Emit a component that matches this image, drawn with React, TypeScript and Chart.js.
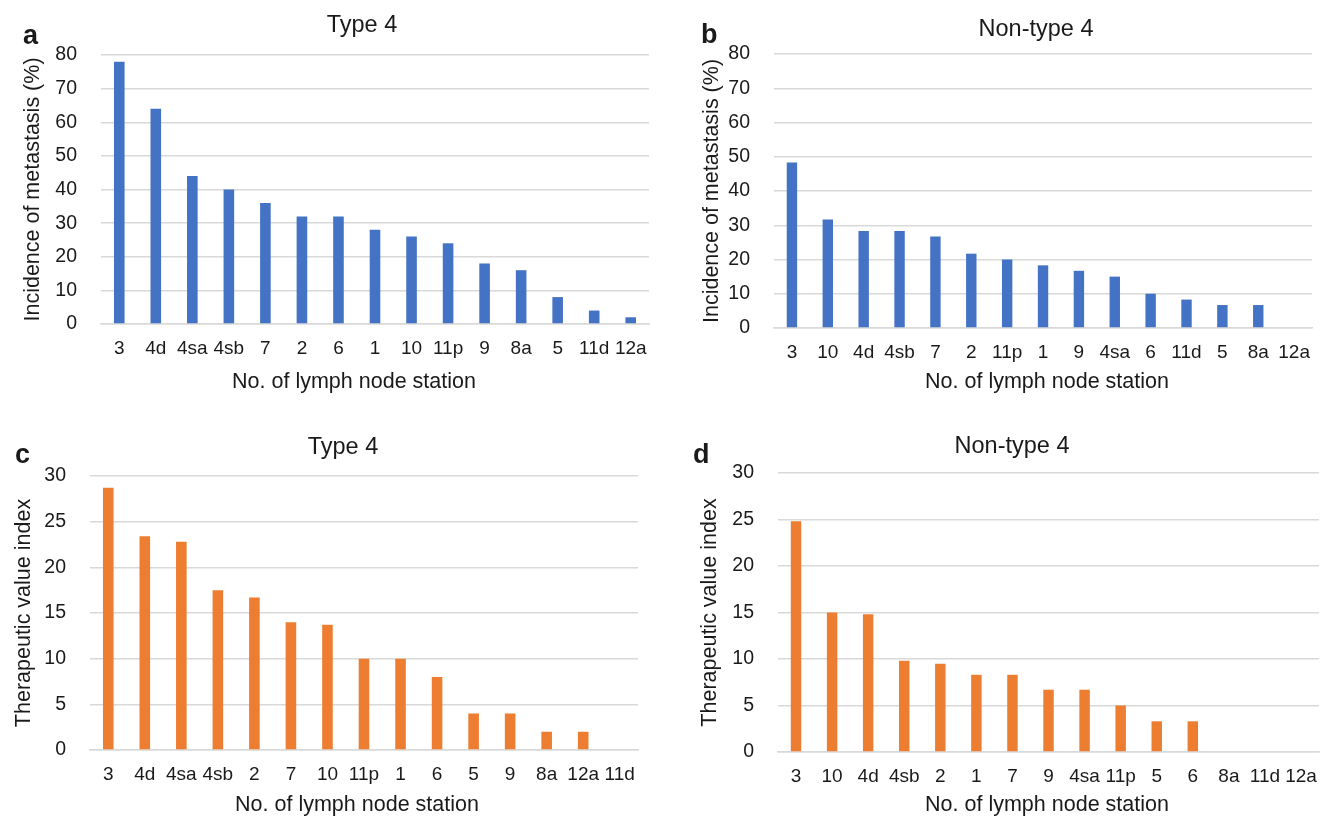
import React, { useEffect, useRef } from "react";
import { Chart, registerables } from "chart.js";

Chart.register(...registerables);

// ---------- data ----------
const catsA = ["3", "4d", "4sa", "4sb", "7", "2", "6", "1", "10", "11p", "9", "8a", "5", "11d", "12a"];
const valsA = [78, 64, 44, 40, 36, 32, 32, 28, 26, 24, 18, 16, 8, 4, 2];

const catsB = ["3", "10", "4d", "4sb", "7", "2", "11p", "1", "9", "4sa", "6", "11d", "5", "8a", "12a"];
const valsB = [48.3, 31.7, 28.3, 28.3, 26.7, 21.7, 20, 18.3, 16.7, 15, 10, 8.3, 6.7, 6.7, 0];

const catsC = ["3", "4d", "4sa", "4sb", "2", "7", "10", "11p", "1", "6", "5", "9", "8a", "12a", "11d"];
const valsC = [28.7, 23.4, 22.8, 17.5, 16.7, 14, 13.7, 10, 10, 8, 4, 4, 2, 2, 0];

const catsD = ["3", "10", "4d", "4sb", "2", "1", "7", "9", "4sa", "11p", "5", "6", "8a", "11d", "12a"];
const valsD = [24.8, 15, 14.8, 9.8, 9.5, 8.3, 8.3, 6.7, 6.7, 5, 3.3, 3.3, 0, 0, 0];

const titleType4 = "Type 4";
const titleNonType4 = "Non-type 4";
const yTitleIncidence = "Incidence of metastasis (%)";
const yTitleTherapeutic = "Therapeutic value index";
const xTitle = "No. of lymph node station";

const BLUE = "#4472C4";
const ORANGE = "#ED7D31";
const GRID = "#d9d9d9";
const TEXT = "#1a1a1a";
const FONT = "'Liberation Sans', Arial, sans-serif";

type Panel = {
  letter: string;
  title: string;
  yTitle: string;
  cats: string[];
  vals: number[];
  color: string;
  yMax: number;
  yStep: number;
  // layout (absolute page coords)
  left: number; top: number; w: number; h: number;
  cl: number; cr: number; ct: number; cb: number;
  letterX: number; letterY: number;
  titleX: number; titleY: number;
  xTitleX: number; xTitleY: number;
  yTitleX: number;
};

const panels: Panel[] = [
  {
    letter: "a", title: titleType4, yTitle: yTitleIncidence, cats: catsA, vals: valsA, color: BLUE, yMax: 80, yStep: 10,
    left: 0, top: 0, w: 660, h: 410, cl: 101, cr: 649, ct: 55, cb: 324,
    letterX: 23, letterY: 44, titleX: 362, titleY: 26, xTitleX: 354, xTitleY: 382, yTitleX: 33,
  },
  {
    letter: "b", title: titleNonType4, yTitle: yTitleIncidence, cats: catsB, vals: valsB, color: BLUE, yMax: 80, yStep: 10,
    left: 660, top: 0, w: 663, h: 410, cl: 774, cr: 1322, ct: 54, cb: 328,
    letterX: 701, letterY: 43, titleX: 1036, titleY: 30, xTitleX: 1047, xTitleY: 382, yTitleX: 712,
  },
  {
    letter: "c", title: titleType4, yTitle: yTitleTherapeutic, cats: catsC, vals: valsC, color: ORANGE, yMax: 30, yStep: 5,
    left: 0, top: 420, w: 660, h: 396, cl: 90, cr: 638, ct: 476, cb: 750,
    letterX: 15, letterY: 463, titleX: 343, titleY: 448, xTitleX: 357, xTitleY: 805, yTitleX: 24,
  },
  {
    letter: "d", title: titleNonType4, yTitle: yTitleTherapeutic, cats: catsD, vals: valsD, color: ORANGE, yMax: 30, yStep: 5,
    left: 660, top: 420, w: 670, h: 396, cl: 778, cr: 1326, ct: 473, cb: 752,
    letterX: 693, letterY: 463, titleX: 1012, titleY: 447, xTitleX: 1047, xTitleY: 805, yTitleX: 710,
  },
];

function PanelChart({ p }: { p: Panel }) {
  const ref = useRef<HTMLCanvasElement | null>(null);
  useEffect(() => {
    if (!ref.current) return;
    const yTitleSize = 21.5;
    const yTitleLH = yTitleSize * 1.2;
    const textPlugin = {
      id: "panelText",
      afterDraw(chart: any) {
        const ctx = chart.ctx;
        ctx.save();
        ctx.fillStyle = TEXT;
        ctx.textAlign = "left";
        ctx.textBaseline = "alphabetic";
        ctx.font = `bold 27px ${FONT}`;
        ctx.fillText(p.letter, p.letterX - p.left, p.letterY - p.top);
        ctx.textAlign = "center";
        ctx.textBaseline = "middle";
        ctx.font = `23.5px ${FONT}`;
        ctx.fillText(p.title, p.titleX - p.left, p.titleY - p.top);
        ctx.font = `21.5px ${FONT}`;
        ctx.fillText(xTitle, p.xTitleX - p.left, p.xTitleY - p.top);
        ctx.restore();
      },
    };
    const chart = new Chart(ref.current, {
      type: "bar",
      data: {
        labels: p.cats,
        datasets: [
          {
            data: p.vals,
            backgroundColor: p.color,
            borderWidth: 0,
            barPercentage: 0.29,
            categoryPercentage: 1,
          },
        ],
      },
      options: {
        responsive: false,
        animation: false,
        layout: {
          padding: {
            left: 0,
            top: p.ct - p.top,
            right: p.left + p.w - p.cr,
            bottom: 0,
          },
        },
        plugins: {
          legend: { display: false },
          tooltip: { enabled: false },
          title: { display: false },
        },
        scales: {
          x: {
            grid: { display: false, drawTicks: false },
            border: { display: true, color: GRID, width: 1.5 },
            ticks: {
              color: TEXT,
              font: { family: FONT, size: 19 },
              padding: 13,
              maxRotation: 0,
              autoSkip: false,
            },
            afterFit(scale: any) {
              scale.height = p.top + p.h - p.cb;
            },
          },
          y: {
            min: 0,
            max: p.yMax,
            grid: { color: GRID, lineWidth: 1.5, drawTicks: false },
            border: { display: false },
            ticks: {
              stepSize: p.yStep,
              color: TEXT,
              font: { family: FONT, size: 19.5 },
              padding: 24,
            },
            title: {
              display: true,
              text: p.yTitle,
              color: TEXT,
              font: { family: FONT, size: yTitleSize },
              padding: { top: p.yTitleX - p.left - yTitleLH / 2, bottom: 0 },
            },
            afterFit(scale: any) {
              scale.width = p.cl - p.left;
            },
          },
        },
      },
      plugins: [textPlugin],
    } as any);
    return () => chart.destroy();
  }, [p]);
  return (
    <canvas
      ref={ref}
      width={p.w}
      height={p.h}
      style={{ position: "absolute", left: p.left, top: p.top, width: p.w, height: p.h }}
    />
  );
}

export default function App() {
  return (
    <div
      style={{
        position: "absolute",
        left: 0,
        top: 0,
        width: 1323,
        height: 816,
        overflow: "hidden",
        background: "#fff",
      }}
    >
      {panels.map((p) => (
        <PanelChart key={p.letter} p={p} />
      ))}
    </div>
  );
}
